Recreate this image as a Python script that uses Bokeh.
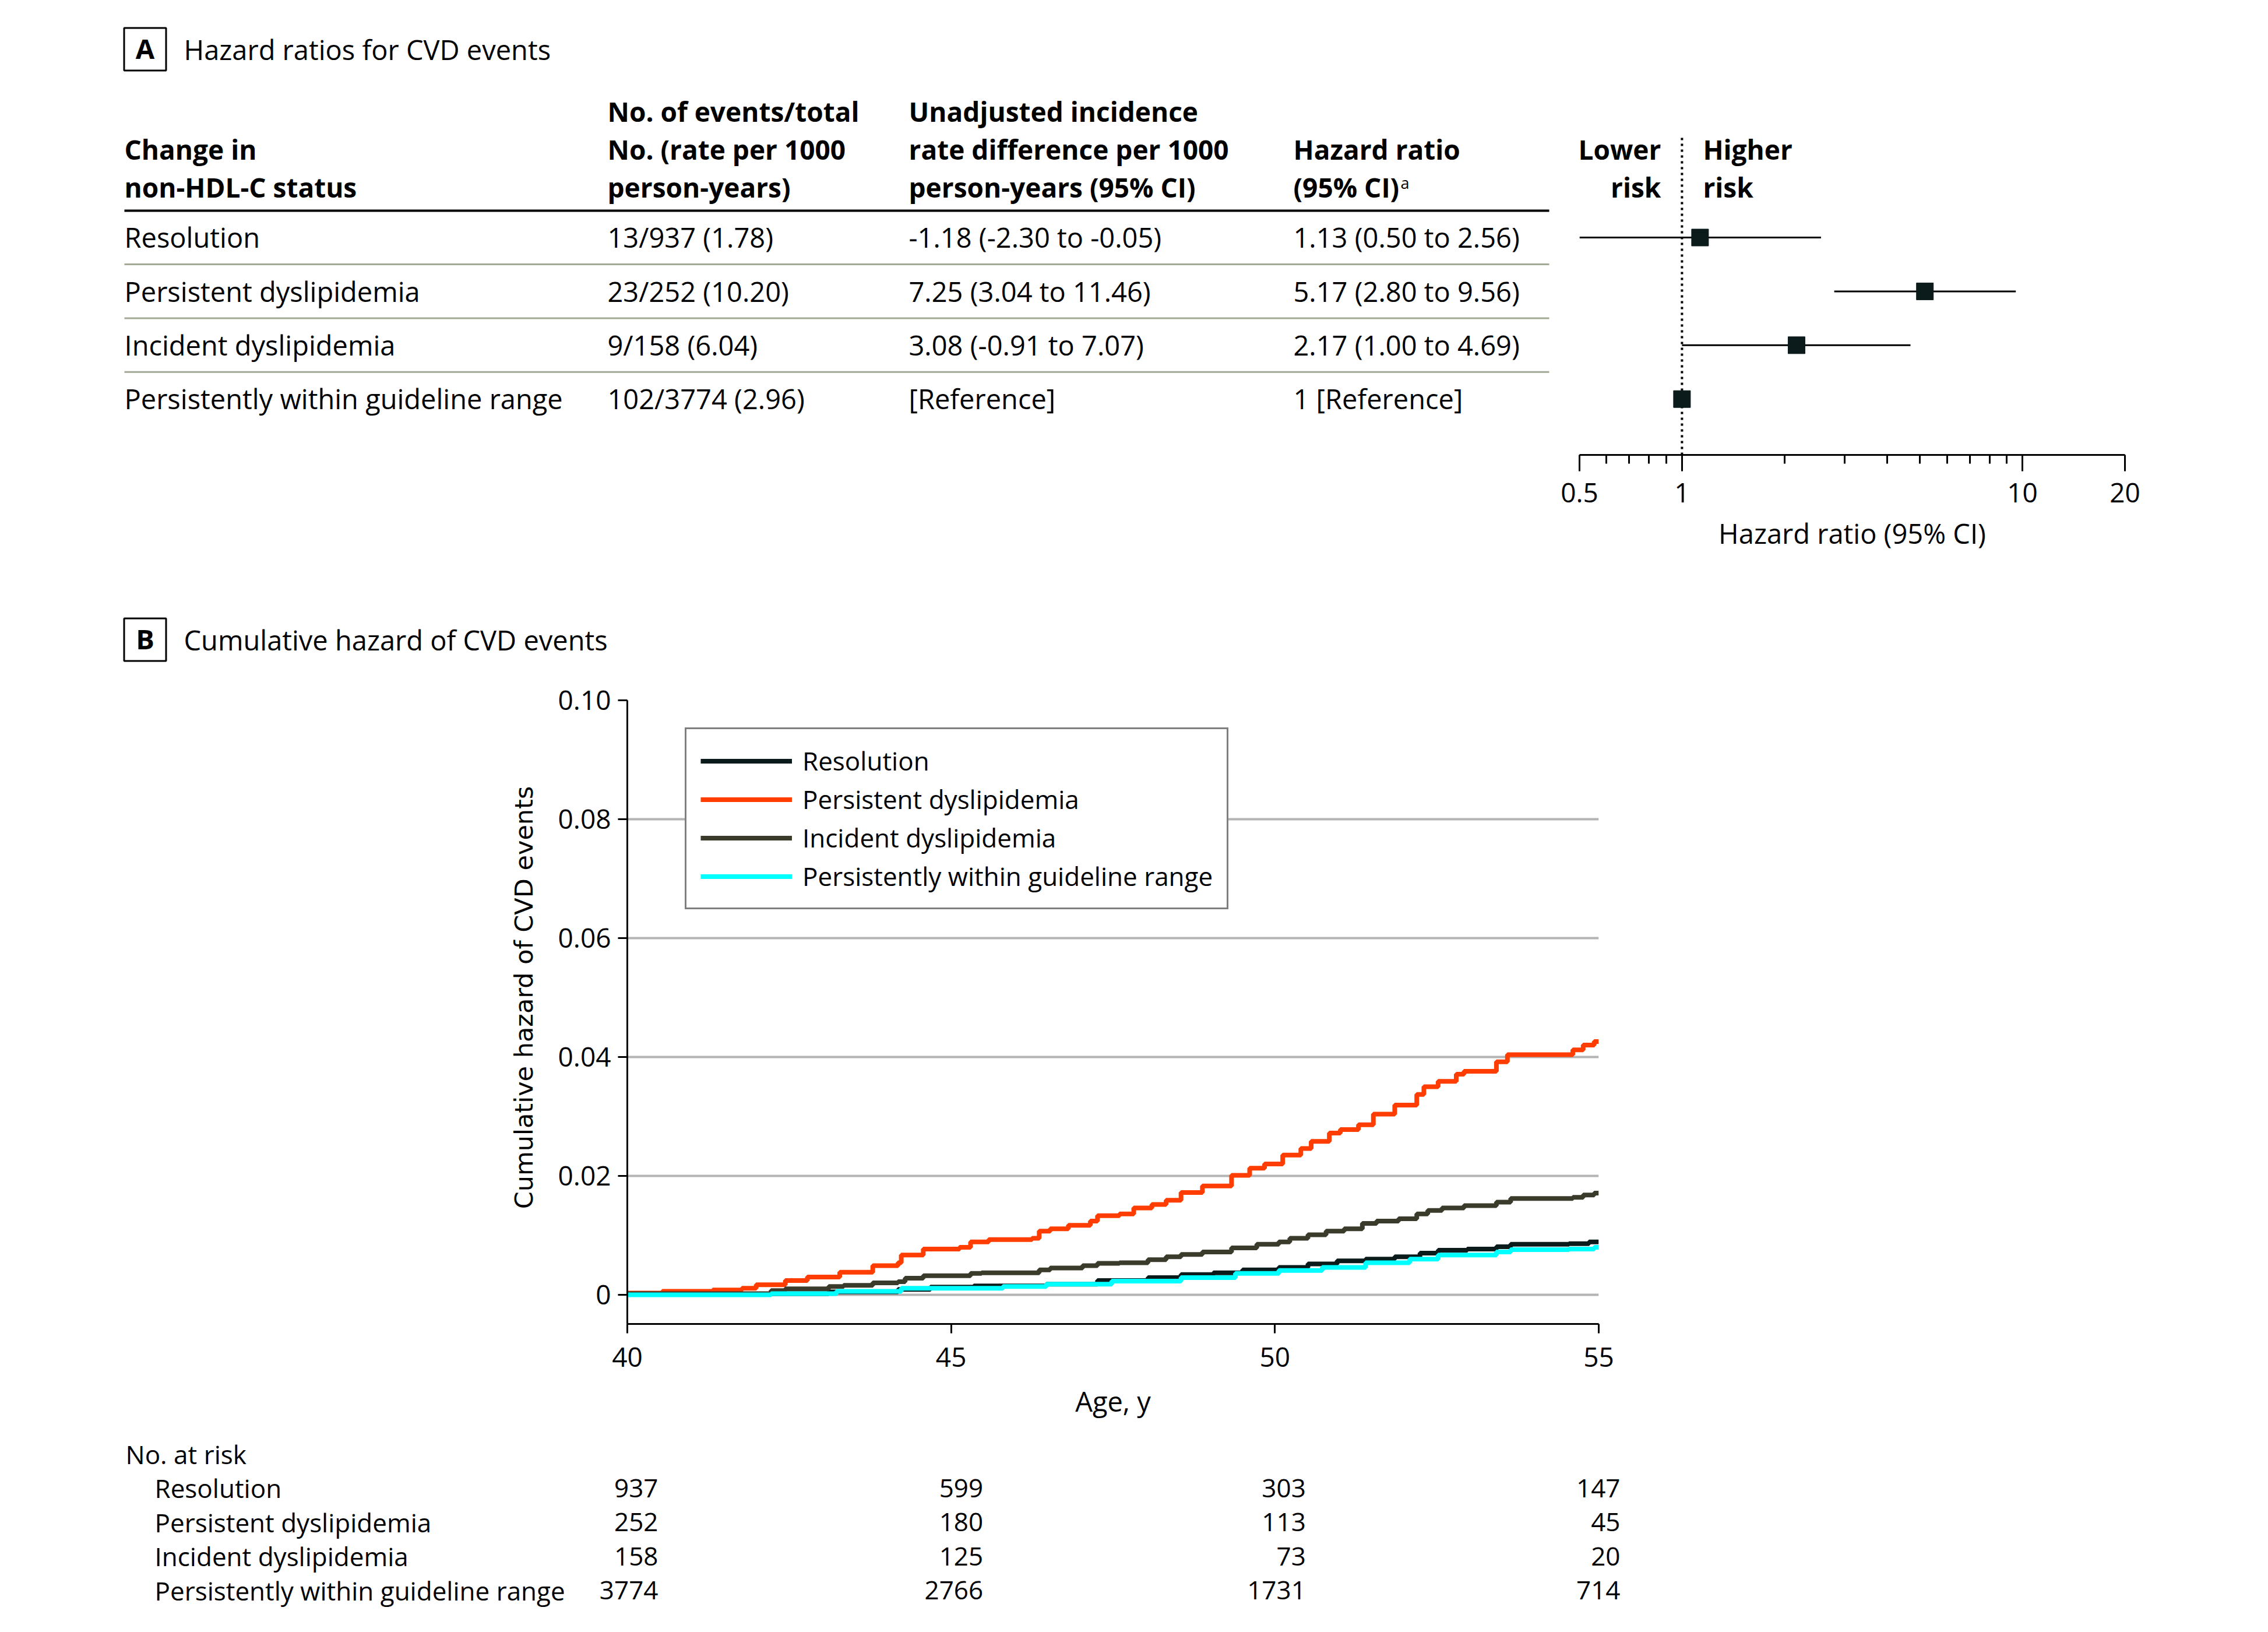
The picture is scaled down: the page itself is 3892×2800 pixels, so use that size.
import math
from bokeh.plotting import figure
from bokeh.models import (Range1d, FixedTicker, Legend, LegendItem,
                          CustomJSTickFormatter)
from bokeh.layouts import column, row
from bokeh.embed import file_html
from bokeh.resources import INLINE
from bokeh.core.properties import value

# ---------------------------------------------------------------- data
groups = ["Resolution", "Persistent dyslipidemia", "Incident dyslipidemia",
          "Persistently within guideline range"]
events = [13, 23, 9, 102]
totals = [937, 252, 158, 3774]
rates = [1.78, 10.20, 6.04, 2.96]
ird = [-1.18, 7.25, 3.08, None]
ird_lo = [-2.30, 3.04, -0.91, None]
ird_hi = [-0.05, 11.46, 7.07, None]
hr = [1.13, 5.17, 2.17, 1.0]
hr_lo = [0.50, 2.80, 1.00, None]
hr_hi = [2.56, 9.56, 4.69, None]

hr_ticks = [0.5, 1, 10, 20]
hr_minor = [0.6, 0.7, 0.8, 0.9, 2, 3, 4, 5, 6, 7, 8, 9]

res_age = [40, 42.22, 43.11, 44.18, 44.68, 45.35, 46.47, 47.26, 48.04, 48.55, 49.05,
           49.50, 50.06, 50.51, 50.96, 51.40, 51.85, 52.24, 52.52, 52.97, 53.42,
           53.64, 54.54, 54.85, 55]
res_val = [0.0001, 0.0002, 0.0005, 0.0009, 0.0013, 0.0015, 0.0018, 0.0024, 0.0029,
           0.0034, 0.0037, 0.0042, 0.0046, 0.0052, 0.0057, 0.0060, 0.0064, 0.0070,
           0.0075, 0.0077, 0.0081, 0.0085, 0.0086, 0.0089, 0.0089]

per_age = [40, 40.54, 41.32, 41.77, 41.99, 42.44, 42.78, 43.28, 43.79, 44.18, 44.23,
           44.57, 45.13, 45.30, 45.58, 46.25, 46.36, 46.53, 46.81, 47.15, 47.26,
           47.60, 47.82, 48.10, 48.32, 48.55, 48.88, 49.33, 49.61, 49.84, 50.12,
           50.40, 50.56, 50.84, 51.01, 51.29, 51.52, 51.85, 52.19, 52.30, 52.52,
           52.80, 52.92, 53.42, 53.59, 54.60, 54.76, 54.93, 55]
per_val = [0.0003, 0.0006, 0.0008, 0.0011, 0.0017, 0.0024, 0.0030, 0.0038, 0.0049,
           0.0054, 0.0067, 0.0077, 0.0080, 0.0089, 0.0093, 0.0095, 0.0107, 0.0111,
           0.0117, 0.0124, 0.0133, 0.0136, 0.0146, 0.0152, 0.0159, 0.0172, 0.0183,
           0.0201, 0.0213, 0.0220, 0.0235, 0.0246, 0.0258, 0.0272, 0.0278, 0.0286,
           0.0304, 0.0319, 0.0337, 0.0350, 0.0359, 0.0371, 0.0376, 0.0392, 0.0404,
           0.0412, 0.0420, 0.0426, 0.0426]

inc_age = [40, 42.22, 42.44, 43.11, 43.34, 43.79, 44.18, 44.29, 44.57, 45.30, 45.47,
           46.36, 46.53, 47.03, 47.26, 47.60, 48.04, 48.32, 48.55, 48.88, 49.33,
           49.72, 50.06, 50.23, 50.51, 50.79, 51.07, 51.35, 51.57, 51.91, 52.19,
           52.36, 52.58, 52.92, 53.42, 53.64, 54.60, 54.76, 54.93, 55]
inc_val = [0.0002, 0.0007, 0.0010, 0.0014, 0.0016, 0.0020, 0.0022, 0.0028, 0.0032,
           0.0036, 0.0037, 0.0042, 0.0045, 0.0049, 0.0053, 0.0054, 0.0059, 0.0064,
           0.0068, 0.0072, 0.0079, 0.0085, 0.0089, 0.0095, 0.0101, 0.0107, 0.0111,
           0.0120, 0.0124, 0.0128, 0.0136, 0.0142, 0.0146, 0.0150, 0.0156, 0.0162,
           0.0164, 0.0168, 0.0171, 0.0171]

wit_age = [40, 42.22, 43.23, 44.23, 45.80, 46.47, 47.48, 48.55, 49.39, 50.06, 50.73,
           51.40, 52.08, 52.52, 53.42, 53.64, 54.54, 54.93, 55]
wit_val = [0.0, 0.0002, 0.0006, 0.0011, 0.0014, 0.0018, 0.0023, 0.0029, 0.0036,
           0.0041, 0.0046, 0.0054, 0.0060, 0.0067, 0.0072, 0.0076, 0.0077, 0.0080,
           0.0080]

km_ticks_x = [40, 45, 50, 55]
km_ticks_y = [0, 0.02, 0.04, 0.06, 0.08, 0.10]

risk_ages = [40, 45, 50, 55]
risk_res = [937, 599, 303, 147]
risk_per = [252, 180, 113, 45]
risk_inc = [158, 125, 73, 20]
risk_wit = [3774, 2766, 1731, 714]

# ---------------------------------------------------------------- style
FONT = value("Open Sans")
INK = "#000000"
DARK = "#0b1a1a"
COLORS = ["#0b1a1a", "#ff3d00", "#3b3b2b", "#00ffff"]
SEP = "#a2a994"
GRID = "#b4b4b4"
MID = 0.39          # em distance from baseline to the text's middle

PAGE_W = 3884
TOP_H, HEADB_H, KM_H, RISK_H = 1000, 160, 1290, 342
TAB_W = 2668
FOREST_W = PAGE_W - TAB_W
AX_Y = 780          # page y of the forest-plot axis line
YLAB_W = 940


def blank(w, h, xr, yr, top=0, bottom=0):
    p = figure(width=w, height=h, x_range=xr, y_range=yr, output_backend="svg",
               toolbar_location=None, x_axis_location=None, y_axis_location=None,
               min_border=0, min_border_top=top, min_border_left=0,
               min_border_right=0, min_border_bottom=bottom)
    p.grid.visible = False
    p.outline_line_color = None
    return p


def txt(p, x, y, t, size=47, bold=False, align="left", **kw):
    # y are baselines (page px); text is anchored at its middle
    p.text(x=x, y=[v - MID * size for v in y], text=t, text_font=FONT,
           text_font_size=f"{size}px",
           text_font_style="bold" if bold else "normal", text_align=align,
           text_baseline="middle", text_color=INK, **kw)


def panel_tag(p, letter, title, cy):
    p.rect(x=[248.5], y=[cy], width=[72], height=[73], fill_color=None,
           line_color=INK, line_width=3)
    txt(p, [248.5], [cy + 17], [letter], bold=True, align="center")
    txt(p, [315], [cy + 19], [title])


# ---------------------------------------------------------------- panel A table
tab = blank(TAB_W, TOP_H, Range1d(0, TAB_W), Range1d(AX_Y, 0), bottom=TOP_H - AX_Y)
panel_tag(tab, "A", "Hazard ratios for CVD events", 84)

col_x = [213, 1042, 1559, 2219]
head_base = [208, 273, 338]
headers = [["Change in", "non-HDL-C status"],
           ["No. of events/total", "No. (rate per 1000", "person-years)"],
           ["Unadjusted incidence", "rate difference per 1000", "person-years (95% CI)"],
           ["Hazard ratio", "(95% CI)"]]
for j, lines in enumerate(headers):
    base = head_base[len(head_base) - len(lines):]
    txt(tab, [col_x[j]] * len(lines), base, lines, size=46, bold=True)
txt(tab, [2403], [324], ["a"], size=27)

ROW_BASE, ROW_H = 425, 92.4
row_base = [ROW_BASE + ROW_H * i for i in range(len(groups))]
col2 = [f"{e}/{t} ({r:.2f})" for e, t, r in zip(events, totals, rates)]
col3 = [f"{v:.2f} ({lo:.2f} to {hi:.2f})" if v is not None else "[Reference]"
        for v, lo, hi in zip(ird, ird_lo, ird_hi)]
col4 = [f"{v:.2f} ({lo:.2f} to {hi:.2f})" if lo is not None else "1 [Reference]"
        for v, lo, hi in zip(hr, hr_lo, hr_hi)]
for j, colv in enumerate([groups, col2, col3, col4]):
    txt(tab, [col_x[j]] * len(colv), row_base, colv)

tab.segment(x0=[213], x1=[2658], y0=[361], y1=[361], line_color=INK, line_width=4)
sep_y = [b + 28 for b in row_base[:-1]]
tab.segment(x0=[213] * 3, x1=[2658] * 3, y0=sep_y, y1=sep_y, line_color=SEP,
            line_width=3)

# ---------------------------------------------------------------- forest plot
ROW_C = ROW_BASE - 18


def fy(px):
    return (px - ROW_C) / ROW_H


forest = figure(width=FOREST_W, height=TOP_H, x_axis_type="log",
                x_range=Range1d(0.5, 20), y_range=Range1d(fy(AX_Y), fy(0)),
                output_backend="svg", toolbar_location=None, y_axis_location=None,
                min_border_left=2710 - TAB_W, min_border_right=PAGE_W - 3646,
                min_border_top=0, min_border_bottom=TOP_H - AX_Y)
forest.grid.visible = False
forest.outline_line_color = None
rows_idx = list(range(len(groups)))
forest.segment(x0=[1], x1=[1], y0=[fy(236)], y1=[fy(AX_Y)], line_color=INK,
               line_width=4, line_dash="4 6")
ci_rows = [i for i in rows_idx if hr_lo[i] is not None]
forest.segment(x0=[hr_lo[i] for i in ci_rows], x1=[hr_hi[i] for i in ci_rows],
               y0=ci_rows, y1=ci_rows, line_color=INK, line_width=3)
forest.scatter(x=hr, y=rows_idx, marker="square", size=29, fill_color=DARK,
               line_color=DARK)
for words, off, align in [(["Lower", "risk"], -36, "right"), (["Higher", "risk"], 36, "left")]:
    forest.text(x=[1, 1], y=[fy(273 - MID * 46), fy(338 - MID * 46)], text=words,
                x_offset=off, text_font=FONT, text_font_size="46px",
                text_font_style="bold", text_align=align, text_baseline="middle",
                text_color=INK)
ax = forest.xaxis[0]
ax.ticker = FixedTicker(ticks=hr_ticks, minor_ticks=hr_minor)
ax.formatter = CustomJSTickFormatter(code="return String(tick);")
ax.axis_line_width = 3
ax.major_tick_line_width = 3
ax.minor_tick_line_width = 3
ax.major_tick_out = 28
ax.major_tick_in = 0
ax.minor_tick_out = 15
ax.minor_tick_in = 0
ax.major_label_text_font = "Open Sans"
ax.major_label_text_font_size = "46px"
ax.major_label_text_color = INK
ax.major_label_standoff = 20
ax.axis_label = "Hazard ratio (95% CI)"
ax.axis_label_text_font = "Open Sans"
ax.axis_label_text_font_size = "47px"
ax.axis_label_text_font_style = "normal"
ax.axis_label_text_color = INK
ax.axis_label_standoff = 18

# ---------------------------------------------------------------- panel B header
headb = blank(PAGE_W, HEADB_H, Range1d(0, PAGE_W), Range1d(TOP_H + HEADB_H, TOP_H))
panel_tag(headb, "B", "Cumulative hazard of CVD events", 1097)

# ---------------------------------------------------------------- cumulative hazard
KM_TOP = TOP_H + HEADB_H
FR_L, FR_R, FR_T, FR_B = 1076, 2743, 1201, 2271
Y0_PX = 2221
y_per_px = 0.02 / 204.0
BT, BB = FR_T - KM_TOP, KM_TOP + KM_H - FR_B

# y-axis title, centred on the 0 - 0.10 span
ylab = blank(YLAB_W, KM_H, Range1d(0, YLAB_W), Range1d(FR_B, FR_T), top=BT, bottom=BB)
ylab.text(x=[898], y=[(FR_T + Y0_PX) / 2], text=["Cumulative hazard of CVD events"],
          angle=math.pi / 2, text_font=value("DejaVu Sans"), text_font_size="43px",
          text_align="center", text_baseline="middle", text_color=INK)

km = figure(width=PAGE_W - YLAB_W, height=KM_H, x_range=Range1d(40, 55),
            y_range=Range1d(-(FR_B - Y0_PX) * y_per_px, 0.10),
            output_backend="svg", toolbar_location=None,
            min_border_left=FR_L - YLAB_W, min_border_right=PAGE_W - FR_R,
            min_border_top=BT, min_border_bottom=BB)
km.outline_line_color = None
km.xgrid.visible = False
km.ygrid.grid_line_color = GRID
km.ygrid.grid_line_width = 4
km.xaxis.ticker = FixedTicker(ticks=km_ticks_x, minor_ticks=[])
km.yaxis.ticker = FixedTicker(ticks=km_ticks_y, minor_ticks=[])
km.yaxis.formatter = CustomJSTickFormatter(
    code="return tick == 0 ? '0' : tick.toFixed(2);")
for a in km.axis:
    a.axis_line_width = 3
    a.major_tick_line_width = 3
    a.major_tick_out = 16
    a.major_tick_in = 0
    a.minor_tick_out = 0
    a.minor_tick_in = 0
    a.major_label_text_font = "Open Sans"
    a.major_label_text_font_size = "46px"
    a.major_label_text_color = INK
    a.axis_label_text_font_style = "normal"
    a.axis_label_text_color = INK
km.xaxis.major_label_standoff = 24
km.yaxis.major_label_standoff = 12
km.xaxis.axis_label = "Age, y"
km.xaxis.axis_label_text_font = "Open Sans"
km.xaxis.axis_label_text_font_size = "47px"
km.xaxis.axis_label_standoff = 24

series = [(res_age, res_val), (per_age, per_val), (inc_age, inc_val), (wit_age, wit_val)]
renderers = []
for (xa, ya), c in zip(series, COLORS):
    renderers.append(km.step(x=xa, y=ya, mode="after", line_color=c, line_width=8))

legend = Legend(items=[LegendItem(label=g, renderers=[r]) for g, r in zip(groups, renderers)],
                location=(1175 - FR_L, FR_B - 1560), orientation="vertical",
                label_text_font="Open Sans", label_text_font_size="44px",
                label_text_color=INK, glyph_width=157, glyph_height=37,
                label_height=37, label_standoff=18, padding=24, spacing=6,
                margin=0, border_line_color=INK, border_line_width=3,
                background_fill_color="white", background_fill_alpha=1.0)
km.add_layout(legend)

# ---------------------------------------------------------------- number at risk
RISK_TOP = KM_TOP + KM_H
px_per_yr = (FR_R - FR_L) / 15.0


def age_at(px):
    return 40 + (px - FR_L) / px_per_yr


risk = blank(PAGE_W, RISK_H, Range1d(age_at(0), age_at(PAGE_W)),
             Range1d(RISK_TOP + RISK_H, RISK_TOP))
txt(risk, [age_at(215)], [2512], ["No. at risk"], size=44)
risk_base = [2570 + 58.4 * i for i in range(len(groups))]
txt(risk, [age_at(265)] * len(groups), risk_base, groups, size=44)
num_offsets = [53, 55, 53, 37]
for i, counts in enumerate([risk_res, risk_per, risk_inc, risk_wit]):
    txt(risk, risk_ages, [risk_base[i]] * len(risk_ages), [str(n) for n in counts],
        size=44, align="right", x_offset=num_offsets)

page = column(row(tab, forest), row(headb), row(ylab, km), row(risk))
open("out.html", "w").write(file_html(page, INLINE))
